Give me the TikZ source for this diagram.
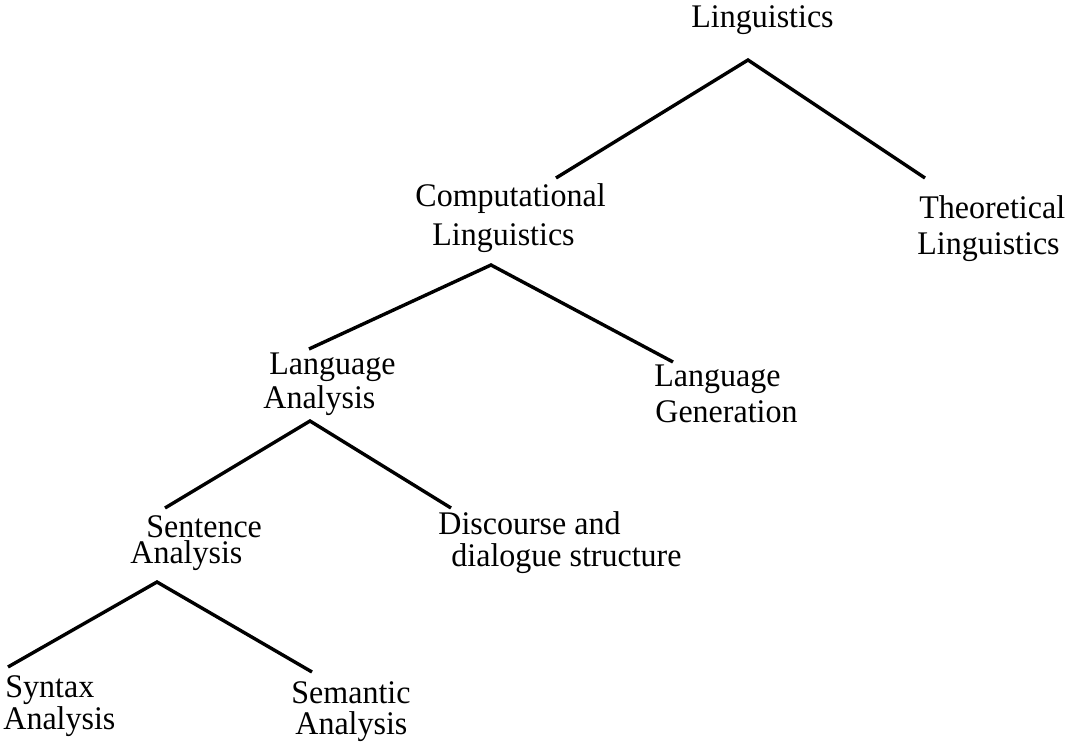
\documentclass[tikz,border=0pt]{standalone}
\usepackage{fontspec}
\setmainfont{Liberation Serif}[FakeStretch=0.97]
\usetikzlibrary{positioning}
\tikzset{%
      branch/.style = { line width=1.7pt, line join=miter },
        term/.style = { anchor=base west, inner sep=0pt, font=\fontsize{16.5}{19}\selectfont }
}

\begin{document}
\begin{tikzpicture}[x=0.5pt,y=-0.5pt]
\useasboundingbox (0,0) rectangle (1067,742);
% labels, one node per printed line
\node[term] (ling)     at (691,28)  {Linguistics};
\node[term] (comp)     at (415,207) {Computational};
\node[term] (comp-2)   at (432,246) {Linguistics};
\node[term] (theo)     at (919,219) {Theoretical};
\node[term] (theo-2)   at (917,255) {Linguistics};
\node[term] (lana)     at (269,375) {Language};
\node[term] (lana-2)   at (263,409) {Analysis};
\node[term] (lgen)     at (654,387) {Language};
\node[term] (lgen-2)   at (655,423) {Generation};
\node[term] (sent)     at (146,538) {Sentence};
\node[term] (sent-2)   at (130,564) {Analysis};
\node[term] (disc)     at (438,535) {Discourse and};
\node[term] (disc-2)   at (451,567) {dialogue structure};
\node[term] (synt)     at (5,698)   {Syntax};
\node[term] (synt-2)   at (3,730)   {Analysis};
\node[term] (sema)     at (291,704) {Semantic};
\node[term] (sema-2)   at (295,735) {Analysis};
% fork points and branch ends
\coordinate (ling-fork) at (748,60);
\coordinate (comp-top)  at (556,178);
\coordinate (theo-top)  at (925,178);
\coordinate (comp-fork) at (491,265);
\coordinate (lana-top)  at (309,349);
\coordinate (lgen-top)  at (673,362);
\coordinate (lana-fork) at (310,421);
\coordinate (sent-top)  at (165,508);
\coordinate (disc-top)  at (451,508);
\coordinate (sent-fork) at (157,582);
\coordinate (synt-top)  at (8,667);
\coordinate (sema-top)  at (312,672);
\draw[branch] (comp-top) -- (ling-fork) -- (theo-top);
\draw[branch] (lana-top) -- (comp-fork) -- (lgen-top);
\draw[branch] (sent-top) -- (lana-fork) -- (disc-top);
\draw[branch] (synt-top) -- (sent-fork) -- (sema-top);
\end{tikzpicture}
\end{document}
